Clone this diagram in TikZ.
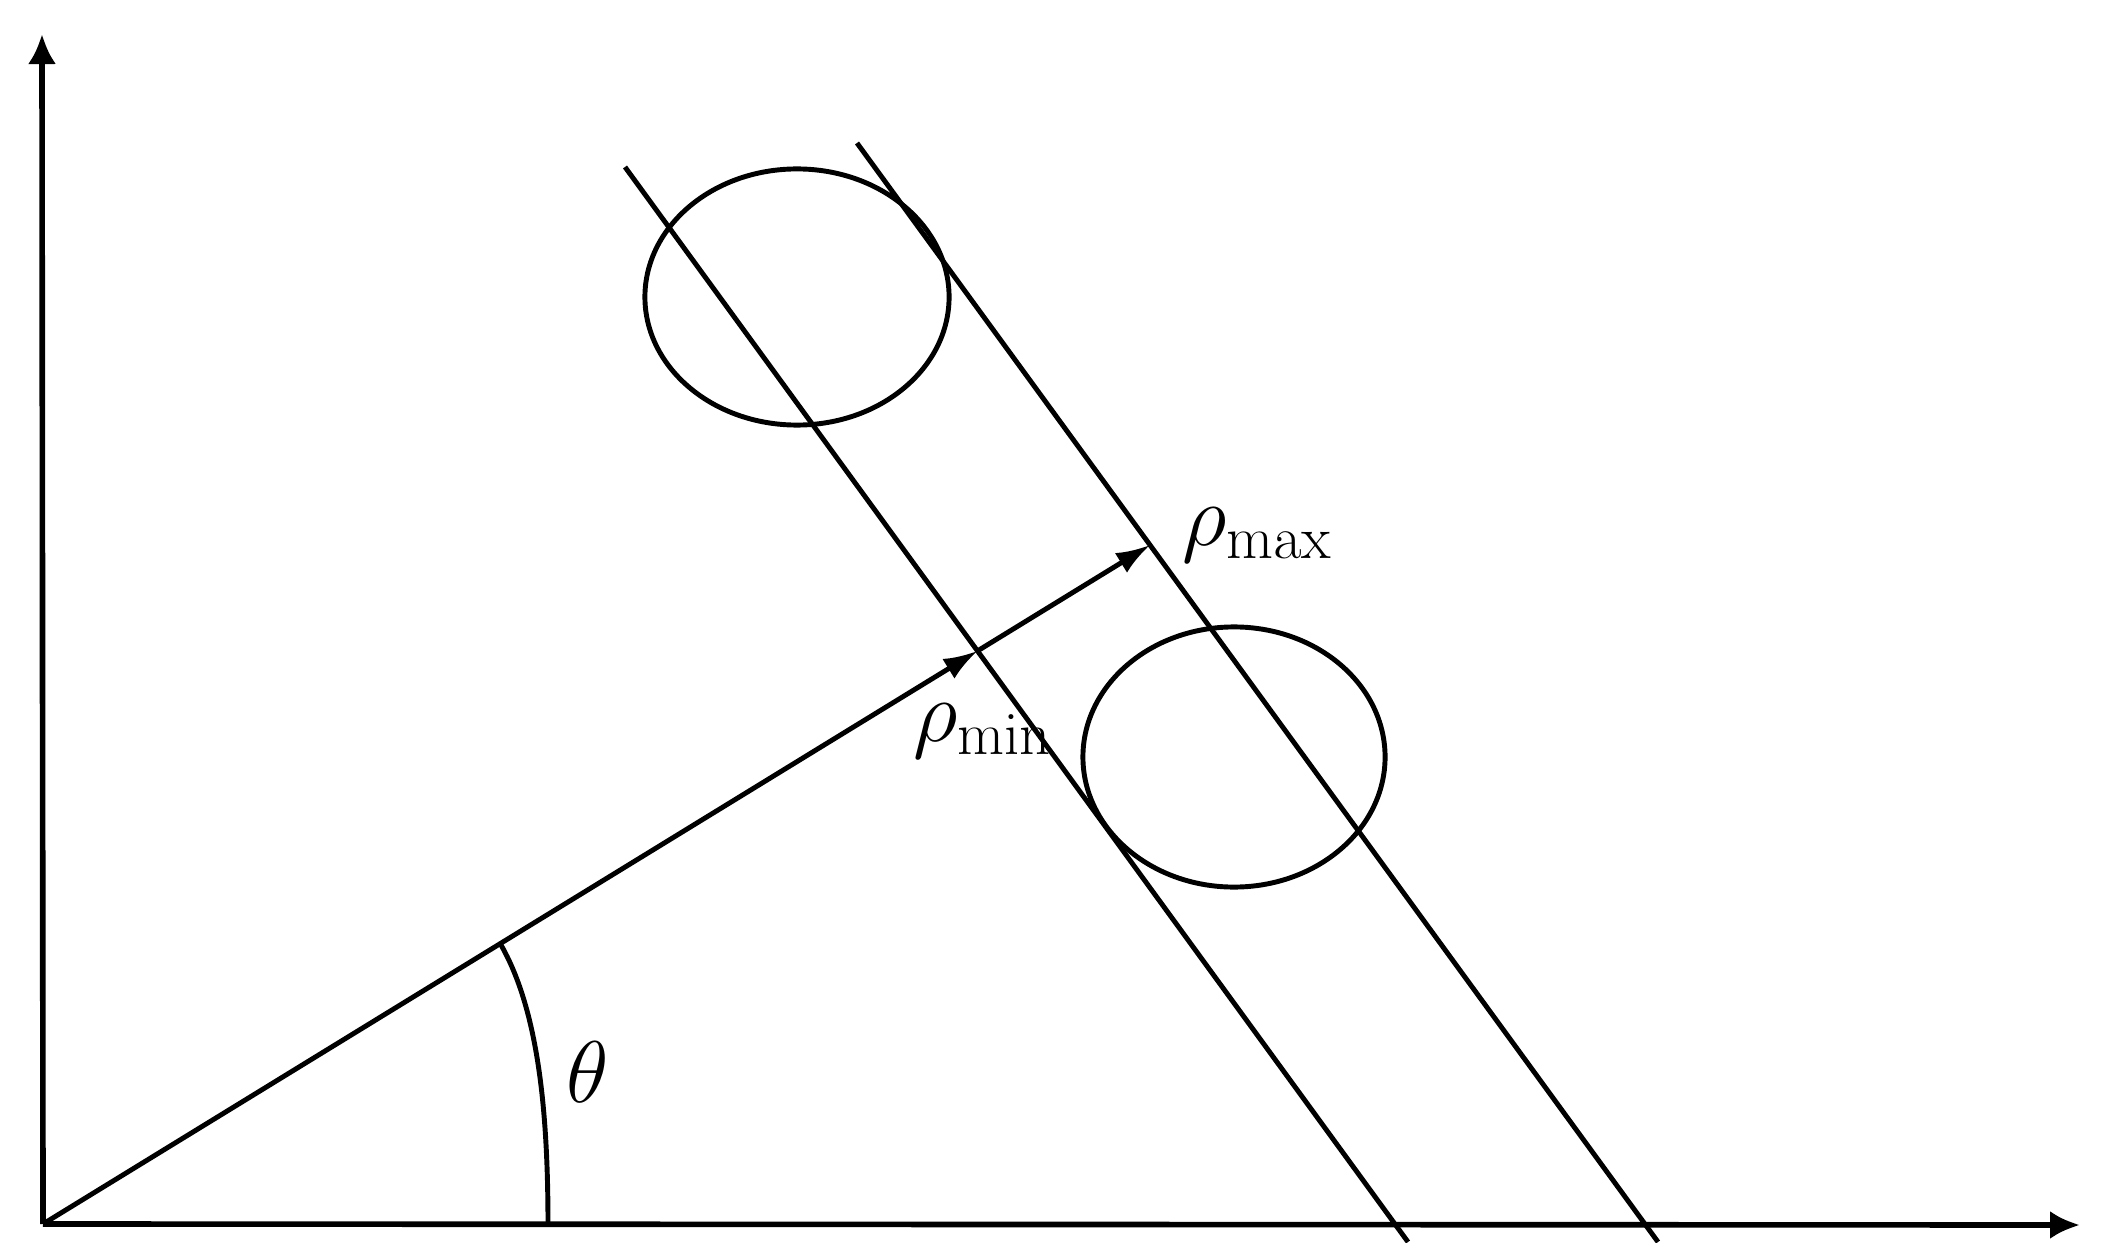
\documentclass[tikz,border=0pt]{standalone}
\usetikzlibrary{arrows.meta,calc}
\begin{document}
\begin{tikzpicture}[x=0.01cm,y=-0.01cm, line width=1.4pt,
  axisarrow/.style={-{Latex[length=3mm,width=2.8mm]}},
  rayarrow/.style={-{Latex[length=3.4mm,width=2.3mm]}},
  lbl/.style={inner sep=0pt, font=\fontsize{23}{28}\selectfont}]
\useasboundingbox (0,0) rectangle (2103,1243);
% axes
\coordinate (O) at (43,1224);
\coordinate (Ytip) at (42,34);
\coordinate (Xtip) at (2080,1225);
\draw[axisarrow, line width=1.6pt] (O) -- (Ytip);
\draw[axisarrow, line width=1.6pt] (O) -- (Xtip);
% parallel lines
\coordinate (L1a) at (625,167); \coordinate (L1b) at (1408,1242);
\coordinate (L2a) at (857,143); \coordinate (L2b) at (1658,1242);
\draw (L1a) -- (L1b);
\draw (L2a) -- (L2b);
% ray
\coordinate (R) at (1150,545);
\coordinate (pmin) at (intersection of O--R and L1a--L1b);
\coordinate (pmax) at (intersection of O--R and L2a--L2b);
\draw[rayarrow] (O) -- (pmin);
\draw[rayarrow] (pmin) -- (pmax);
% circles
\draw (797,297) ellipse [x radius=1.52cm, y radius=1.28cm];
\draw (1234,757) ellipse [x radius=1.51cm, y radius=1.30cm];
% angle arc
\coordinate (A) at ($(O)!0.413!(pmax)$);
\coordinate (B) at (548,1225);
\draw (A) .. controls (540,1012) and (548,1120) .. (B);
% labels
\node[lbl, anchor=base west] (lmax) at (1180,545) {$\rho_{\mathrm{max}}$};
\node[lbl, anchor=base west] (lmin) at (911,741) {$\rho_{\mathrm{min}}$};
\node[lbl] (th) at (588,1072) {$\theta$};
\end{tikzpicture}
\end{document}
